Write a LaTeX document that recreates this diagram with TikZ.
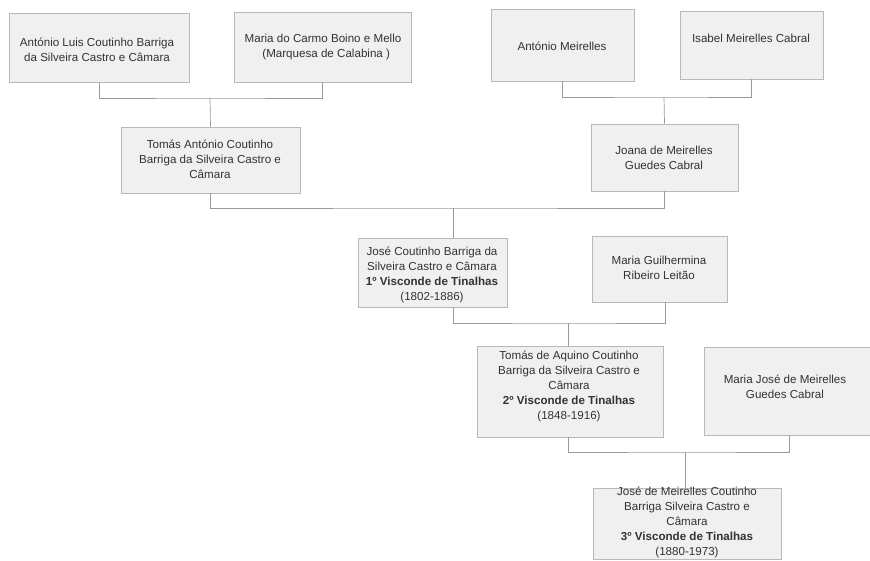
\documentclass[tikz,border=0pt]{standalone}
\usepackage{fontspec}
\setmainfont{Liberation Sans}
\begin{document}
\begin{tikzpicture}[x=1pt,y=-1pt,
  box/.style={draw=black!28, fill=black!6, line width=0.7pt, inner sep=0pt, rectangle},
  txt/.style={align=center, inner sep=0pt, text=black!80, font=\fontsize{11.6}{15}\selectfont},
  link/.style={draw=black!40, line width=0.7pt}]
\clip (0,0) rectangle (870,560);
\fill[white] (0,0) rectangle (870,560);
% generation 1
\node[box, minimum width=180pt, minimum height=69pt] (b1) at (99,48) {};
\node[txt] (t1) at (97,49.5) {António Luis Coutinho Barriga\\da Silveira Castro e Câmara};
\node[box, minimum width=177pt, minimum height=70pt] (b2) at (322.5,47) {};
\node[txt] (t2) at (323,47) {Maria do Carmo Boino e Mello\\\ \ (Marquesa de Calabina~)};
\node[box, minimum width=143pt, minimum height=72pt] (b3) at (562.5,45) {};
\node[txt] (t3) at (562,46) {António Meirelles};
\node[box, minimum width=143pt, minimum height=68pt] (b4) at (751.5,45) {};
\node[txt] (t4) at (751,38) {Isabel Meirelles Cabral};
% generation 2
\node[box, minimum width=179pt, minimum height=66pt] (b5) at (210.5,160) {};
\node[txt] (t5) at (210,159) {Tomás António Coutinho\\Barriga da Silveira Castro e\\Câmara};
\node[box, minimum width=147pt, minimum height=67pt] (b6) at (664.5,157.5) {};
\node[txt] (t6) at (664,158) {Joana de Meirelles\\Guedes Cabral};
% generation 3
\node[box, minimum width=149pt, minimum height=69pt] (b7) at (432.5,272.5) {};
\node[txt] (t7) at (432,275) {José Coutinho Barriga da\\Silveira Castro e Câmara\\\textbf{1º Visconde de Tinalhas}\\(1802-1886)};
\node[box, minimum width=135pt, minimum height=66pt] (b8) at (659.5,269) {};
\node[txt] (t8) at (659,268) {Maria Guilhermina\\Ribeiro Leitão};
% generation 4
\node[box, minimum width=186pt, minimum height=91pt] (b9) at (570,391.5) {};
\node[txt] (t9) at (569,386) {Tomás de Aquino Coutinho\\Barriga da Silveira Castro e\\Câmara\\\textbf{2º Visconde de Tinalhas}\\(1848-1916)};
\node[box, minimum width=190pt, minimum height=88pt] (b10) at (799,391) {};
\node[txt] (t10) at (785,387) {Maria José de Meirelles\\Guedes Cabral};
% generation 5
\node[box, minimum width=188pt, minimum height=71pt] (b11) at (687,523.5) {};
\node[txt] (t11) at (687,522) {José de Meirelles Coutinho\\Barriga Silveira Castro e\\Câmara\\\textbf{3º Visconde de Tinalhas}\\(1880-1973)};
% junction points
\coordinate (j1) at (210,98);
\coordinate (j2) at (664,97);
\coordinate (j3) at (453,208);
\coordinate (j4) at (568,323);
\coordinate (j5) at (685,452);
% connectors
\draw[link] (b1.south) |- (j1) -| (b2.south);
\draw[link] (j1) -- (b5.north);
\draw[link] (b3.south) |- (j2) -| (b4.south);
\draw[link] (j2) -- (b6.north);
\draw[link] (b5.south) |- (j3) -| (b6.south);
\draw[link] (j3) -- (j3 |- b7.north);
\draw[link] (j3 |- b7.south) |- (j4) -| ([xshift=5.5pt]b8.south);
\draw[link] (j4) -- (j4 |- b9.north);
\draw[link] (j4 |- b9.south) |- (j5) -| ([xshift=-10pt]b10.south);
\draw[link] (j5) -- (j5 |- b11.north);
\end{tikzpicture}
\end{document}
